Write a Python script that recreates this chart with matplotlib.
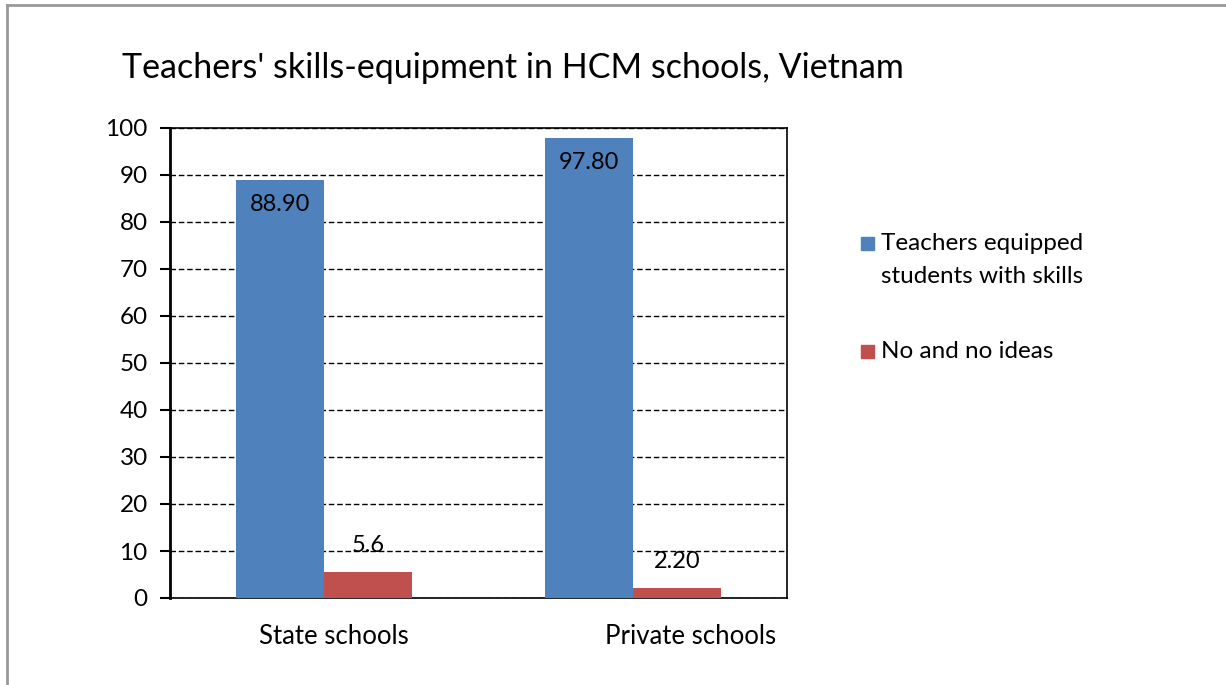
import numpy as np
import matplotlib.pyplot as plt
import matplotlib.transforms as mtransforms
from matplotlib.lines import Line2D
from matplotlib.patches import Rectangle

schools = ["State schools", "Private schools"]
equipped = [88.90, 97.80]
no_ideas = [5.6, 2.20]
equipped_labels = ["88.90", "97.80"]
no_ideas_labels = ["5.6", "2.20"]
series_names = ["Teachers equipped\nstudents with skills", "No and no ideas"]
colors = ["#4F81BD", "#C0504D"]

plt.rcParams['font.family'] = ['Lato', 'DejaVu Sans']

W, H = 1226, 685
fig = plt.figure(figsize=(W / 100, H / 100), dpi=100)
ax = fig.add_axes([170 / W, 1 - 598 / H, 617 / W, 470 / H])

x = np.arange(len(schools))
w = 0.285
b1 = ax.bar(x - w / 2, equipped, w, color=colors[0], zorder=3)
b2 = ax.bar(x + w / 2, no_ideas, w, color=colors[1], zorder=3)

for rect, txt in zip(b1, equipped_labels):
    ax.text(rect.get_x() + rect.get_width() / 2, rect.get_height() - 5.1, txt,
            ha="center", va="center", fontsize=17, zorder=4)
for rect, txt in zip(b2, no_ideas_labels):
    ax.text(rect.get_x() + rect.get_width() / 2, rect.get_height() + 5.6, txt,
            ha="center", va="center", fontsize=17, zorder=4)

ax.set_xlim(-0.5, 1.5)
ax.set_ylim(0, 100)
ax.set_yticks(range(0, 101, 10))
ax.set_xticks(x)
ax.set_xticklabels(schools, fontsize=18.5)
ax.tick_params(axis="x", length=0, pad=19)
ax.tick_params(axis="y", direction="out", length=7, width=1.5, labelsize=17.5, pad=9)
ax.yaxis.grid(True, linestyle=(0, (4, 2)), color="black", linewidth=1, zorder=0)
for s in ax.spines.values():
    s.set_color("black")
    s.set_linewidth(1.2)
ax.spines["left"].set_linewidth(2)

# category labels sit a little right of the bar groups
for lbl, dx in zip(ax.get_xticklabels(), [10, 58]):
    lbl.set_transform(lbl.get_transform() +
                      mtransforms.ScaledTranslation(dx / 100, 0, fig.dpi_scale_trans))

fig.text(122 / W, 1 - 68 / H, "Teachers' skills-equipment in HCM schools, Vietnam",
         fontsize=24.5, va="center", ha="left")

# legend drawn by hand so the swatch sits beside the first text line
legend_rows = [(series_names[0], 243), (series_names[1], 351)]
for (name, ypix), col in zip(legend_rows, colors):
    fig.add_artist(Rectangle((861 / W, 1 - (ypix + 7) / H), 13 / W, 13 / H,
                             color=col, transform=fig.transFigure))
    fig.text(881 / W, 1 - (ypix - 10) / H, name, fontsize=17.5, ha="left", va="top",
             linespacing=1.7)

# frame around the whole chart
fig.add_artist(Line2D([7 / W, 7 / W], [0, 1 - 5 / H], color="#999999", lw=2,
                      transform=fig.transFigure))
fig.add_artist(Line2D([7 / W, 1], [1 - 5 / H, 1 - 5 / H], color="#999999", lw=2,
                      transform=fig.transFigure))

fig.savefig("out.png", dpi=100)
